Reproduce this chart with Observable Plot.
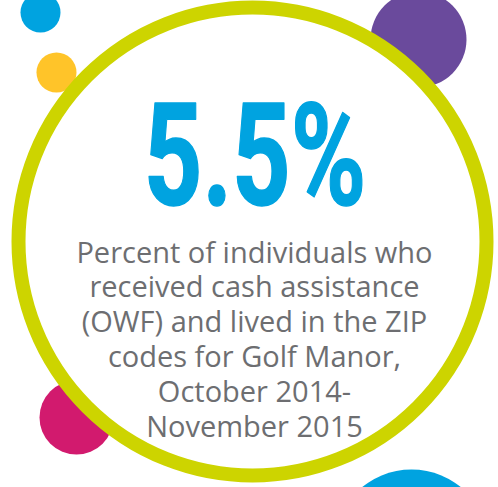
<!DOCTYPE html>
<html>
<head>
<meta charset="utf-8">
<script src="https://cdn.jsdelivr.net/npm/d3@7"></script>
<script src="https://cdn.jsdelivr.net/npm/@observablehq/plot@0.6"></script>
<style>
  html, body { margin: 0; padding: 0; background: #fff; }
  #chart svg { display: block; }
</style>
</head>
<body>
<div id="chart"></div>
<script>
// Headline value
const headlineValue = [5.5];
const headlineLabels = ["5.5%"];

// Description lines
const descriptionLines = [
  "Percent of individuals who",
  "received cash assistance",
  "(OWF) and lived in the ZIP",
  "codes for Golf Manor,",
  "October 2014-",
  "November 2015"
];

// Decorative bubbles
const bubbleX = [40, 56, 418, 76, 411];
const bubbleY = [12, 72, 39, 417, 547];
const bubbleR = [20, 20, 48, 37, 78];
const bubbleColor = ["#00A3E0", "#FFC429", "#6A4A9C", "#D21A6E", "#00A3E0"];

const W = 498, H = 487;
const cx = 252, cy = 241;
const headX = cx + 3;

const bubbles = bubbleX.map((x, i) => ({x, y: bubbleY[i], r: bubbleR[i], c: bubbleColor[i]}));
const lines = descriptionLines.map((t, i) => ({t, y: 262 + 34.8 * i}));
const headline = headlineValue.map((v, i) => ({v, label: headlineLabels[i]}));

const plot = Plot.plot({
  width: W,
  height: H,
  margin: 0,
  x: {type: "linear", domain: [0, W], range: [0, W], axis: null},
  y: {type: "linear", domain: [0, H], range: [0, H], axis: null},
  r: {type: "identity"},
  marks: [
    Plot.dot(bubbles, {x: "x", y: "y", r: "r", fill: "c", stroke: null}),
    Plot.dot([{x: cx, y: cy}], {x: "x", y: "y", r: 234, fill: "white", stroke: "#CDD400", strokeWidth: 14}),
    Plot.text(headline, {
      x: () => headX, y: () => 205, text: "label",
      fontSize: 142, fontWeight: 700, fill: "#00A3E0",
      stroke: "#00A3E0", strokeWidth: 1.5,
      fontFamily: "Roboto, 'Liberation Sans', sans-serif",
      lineAnchor: "bottom", className: "headline"
    }),
    Plot.text(lines, {
      x: () => cx + 2, y: "y", text: "t",
      fontSize: 29, fill: "#6D6E71",
      fontFamily: "'Open Sans', sans-serif",
      lineAnchor: "bottom"
    })
  ]
});

// Condense the headline glyphs horizontally around the centre
d3.select(plot).selectAll("g.headline")
  .attr("transform", `translate(${headX},0) scale(0.72,1) translate(${-headX},0)`);

document.getElementById("chart").appendChild(plot);
</script>
</body>
</html>
